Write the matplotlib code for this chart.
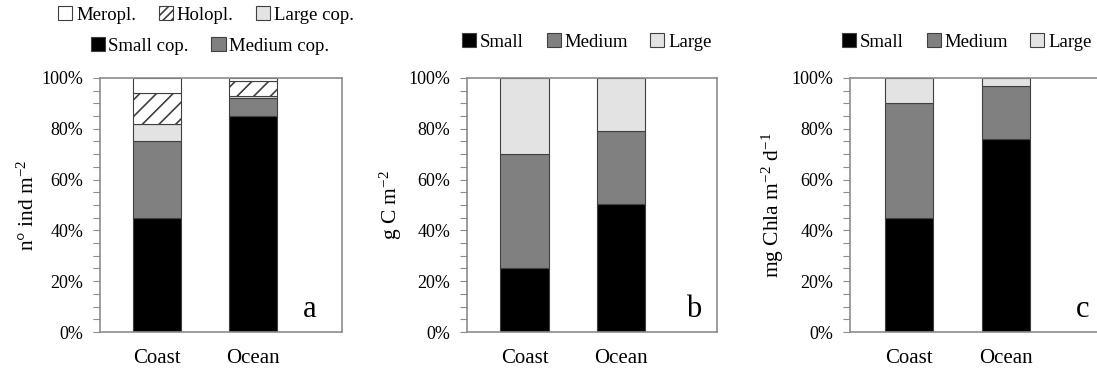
import matplotlib
matplotlib.use('Agg')
import matplotlib.pyplot as plt
from matplotlib.patches import Patch
from matplotlib.ticker import MultipleLocator, PercentFormatter

plt.rcParams['font.family'] = ['Liberation Serif', 'DejaVu Serif']
plt.rcParams['mathtext.fontset'] = 'custom'
plt.rcParams['mathtext.rm'] = 'Liberation Serif'
plt.rcParams['mathtext.default'] = 'regular'
plt.rcParams['hatch.linewidth'] = 1.2

sites = ['Coast', 'Ocean']

# panel a: abundance (%)
a_small = [45, 85]
a_medium = [30, 7]
a_large = [7, 1]
a_holo = [12, 6]
a_mero = [6, 1]

# panel b: biomass (%)
b_small = [25, 50.5]
b_medium = [45, 28.5]
b_large = [30, 21]

# panel c: grazing (%)
c_small = [45, 76]
c_medium = [45, 21]
c_large = [10, 3]

BLACK = '#000000'
GREY = '#808080'
LIGHT = '#e3e3e3'
EDGE = '#404040'
SPINE = '#8c8c8c'

fig = plt.figure(figsize=(10.97, 3.70), dpi=100)
axA = fig.add_axes([0.0912, 0.1027, 0.2206, 0.6865])
axB = fig.add_axes([0.4257, 0.1027, 0.2279, 0.6865])
axC = fig.add_axes([0.7748, 0.1027, 0.2290, 0.6865])

x = [0, 1]
w = 0.5


def stack(ax, layers):
    bottom = [0, 0]
    for vals, col, hatch in layers:
        ax.bar(x, vals, w, bottom=bottom, color=col, edgecolor=EDGE,
               linewidth=0.8, hatch=hatch)
        bottom = [b + v for b, v in zip(bottom, vals)]


def style(ax, xlim, letter, lx):
    ax.set_ylim(0, 100)
    ax.set_xlim(*xlim)
    ax.yaxis.set_major_locator(MultipleLocator(20))
    ax.yaxis.set_minor_locator(MultipleLocator(5))
    ax.yaxis.set_major_formatter(PercentFormatter(decimals=0))
    ax.set_xticks(x)
    ax.set_xticklabels(sites)
    ax.tick_params(axis='x', length=0, pad=12, labelsize=15)
    ax.tick_params(axis='y', which='both', direction='out', length=5,
                   width=0.8, color=SPINE, pad=7, labelsize=13)
    for s in ax.spines.values():
        s.set_color(SPINE)
        s.set_linewidth(1.2)
    ax.text(lx, 0.09, letter, transform=ax.transAxes, fontsize=22,
            ha='center', va='center')


stack(axA, [(a_small, BLACK, None), (a_medium, GREY, None),
            (a_large, LIGHT, None), (a_holo, 'white', '//'),
            (a_mero, 'white', None)])
stack(axB, [(b_small, BLACK, None), (b_medium, GREY, None),
            (b_large, LIGHT, None)])
stack(axC, [(c_small, BLACK, None), (c_medium, GREY, None),
            (c_large, LIGHT, None)])

style(axA, (-0.594, 1.927), 'a', 0.868)
style(axB, (-0.596, 1.995), 'b', 0.905)
style(axC, (-0.606, 1.98), 'c', 0.928)

axA.set_ylabel('n° ind m$^{-2}$', fontsize=15.5, labelpad=2)
axB.set_ylabel('g C m$^{-2}$', fontsize=15.5, labelpad=3)
axC.set_ylabel('mg Chla m$^{-2}$ d$^{-1}$', fontsize=15.5, labelpad=4)


def patch(col, hatch=None):
    return Patch(facecolor=col, edgecolor=EDGE, linewidth=0.8, hatch=hatch)


leg_kw = dict(frameon=False, fontsize=13.5, handlelength=0.75,
              handleheight=0.75, handletextpad=0.2, columnspacing=1.2,
              borderaxespad=0, loc='center')

fig.legend([patch('white'), patch('white', '////'), patch(LIGHT)],
           ['Meropl.', 'Holopl.', 'Large cop.'], ncol=3,
           bbox_to_anchor=(206 / 1097, 1 - 15 / 370), **leg_kw)
fig.legend([patch(BLACK), patch(GREY)],
           ['Small cop.', 'Medium cop.'], ncol=2,
           bbox_to_anchor=(210 / 1097, 1 - 46 / 370), **leg_kw)
fig.legend([patch(BLACK), patch(GREY), patch(LIGHT)],
           ['Small', 'Medium', 'Large'], ncol=3,
           bbox_to_anchor=(587 / 1097, 1 - 42 / 370), **leg_kw)
fig.legend([patch(BLACK), patch(GREY), patch(LIGHT)],
           ['Small', 'Medium', 'Large'], ncol=3,
           bbox_to_anchor=(967 / 1097, 1 - 42 / 370), **leg_kw)

fig.savefig('out.png', dpi=100)
